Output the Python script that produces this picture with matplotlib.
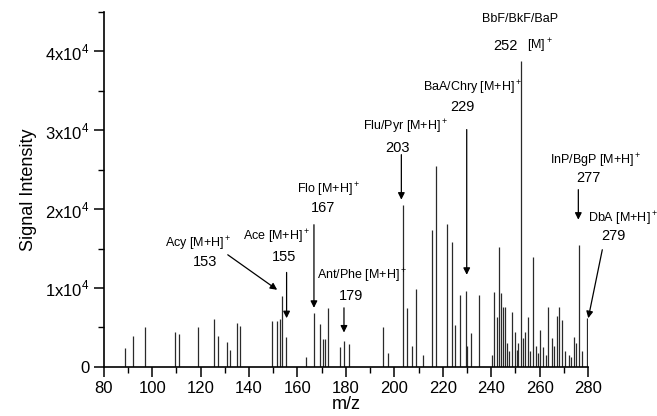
import matplotlib
matplotlib.use('Agg')
from matplotlib import pyplot as plt
from matplotlib.ticker import MultipleLocator, FuncFormatter

plt.rcParams['font.family'] = ['Liberation Sans', 'DejaVu Sans']
plt.rcParams['mathtext.fontset'] = 'custom'
plt.rcParams['mathtext.rm'] = 'Liberation Sans'

# peak positions (m/z) and signal intensities
mz = [88.9, 92.0, 97.2, 109.2, 111.0, 118.7, 125.4, 127.2, 130.8, 132.3,
      135.2, 136.2, 149.4, 151.5, 152.7, 153.6, 155.2, 163.7, 166.8, 169.3,
      170.5, 171.5, 172.6, 177.5, 179.4, 181.2, 195.3, 197.4, 203.4, 205.4,
      207.3, 209.1, 211.9, 215.4, 217.1, 221.8, 223.8, 225.0, 227.3, 229.6,
      230.1, 231.8, 235.0, 240.3, 241.2, 242.6, 243.4, 243.9, 244.8, 245.6,
      246.7, 247.5, 248.7, 249.8, 250.5, 251.2, 252.3, 253.0, 254.0, 255.3,
      256.0, 257.1, 258.4, 259.2, 260.2, 261.5, 262.5, 263.6, 265.2, 266.0,
      267.3, 268.1, 269.1, 270.5, 272.3, 273.0, 274.1, 274.9, 276.4, 277.5,
      279.5]
intensity = [2450, 3940, 5120, 4450, 4150, 5000, 6120, 3980, 3130, 2160,
             5590, 5170, 5800, 5760, 6100, 8950, 3800, 1230, 6820, 5460,
             3560, 3560, 7450, 2500, 3340, 2920, 5120, 1740, 20490, 7500,
             2620, 9870, 1520, 17400, 25500, 18140, 15790, 5330, 9140, 9650,
             2670, 4280, 9060, 1500, 9500, 6390, 15150, 9360, 7600, 7660,
             3080, 2000, 7020, 4480, 2200, 3000, 38770, 3660, 4480, 6390,
             2000, 14000, 2600, 1800, 4700, 2500, 1500, 7660, 3660, 2600,
             6480, 7660, 5970, 2000, 1520, 1200, 3850, 3000, 15500, 2000,
             6180]

# labelled compounds: (name, name x, name y, number, number x, number y)
labels = [
    ("Acy [M+H]$^+$", 105.2, 15620, "153", 121.7, 13340),
    ("Ace [M+H]$^+$", 137.4, 16510, "155", 154.4, 13970),
    ("Flo [M+H]$^+$", 159.8, 22480, "167", 170.7, 20190),
    ("Ant/Phe [M+H]$^+$", 168.0, 11560, "179", 182.1, 9020),
    ("Flu/Pyr [M+H]$^+$", 187.0, 30420, "203", 201.3, 27810),
    ("BaA/Chry [M+H]$^+$", 211.8, 35430, "229", 228.3, 33020),
    ("InP/BgP [M+H]$^+$", 264.3, 26160, "277", 280.0, 24000),
    ("DbA [M+H]$^+$", 280.0, 18800, "279", 290.7, 16640),
]
# arrows: (start x, start y, tip x, tip y)
arrows = [
    (131.2, 14220, 151.6, 9780),
    (155.5, 11980, 155.5, 6180),
    (166.8, 18030, 166.8, 7490),
    (179.2, 7490, 179.2, 4360),
    (202.9, 26920, 202.9, 21210),
    (229.9, 30100, 229.9, 11680),
    (276.0, 22480, 276.0, 18670),
    (285.9, 14860, 280.1, 6180),
]

fig = plt.figure(figsize=(6.57, 4.16), dpi=100)
ax = fig.add_axes([0.158, 0.118, 0.737, 0.853])

ax.vlines(mz, 0, intensity, color='#2a2a2a', lw=0.9)

ax.set_xlim(80, 280)
ax.set_ylim(0, 45000)
ax.xaxis.set_major_locator(MultipleLocator(20))
ax.xaxis.set_minor_locator(MultipleLocator(10))
ax.yaxis.set_major_locator(MultipleLocator(10000))
ax.yaxis.set_minor_locator(MultipleLocator(5000))


def yfmt(v, pos):
    if v == 0:
        return "0"
    return "%dx10$^4$" % round(v / 10000)


ax.yaxis.set_major_formatter(FuncFormatter(yfmt))
ax.spines['top'].set_visible(False)
ax.spines['right'].set_visible(False)
for s in ['left', 'bottom']:
    ax.spines[s].set_linewidth(1.2)
ax.tick_params(which='major', direction='out', length=7, width=1.1, labelsize=12)
ax.tick_params(which='minor', direction='out', length=4, width=1.0)
ax.set_xlabel('m/z', fontsize=13, labelpad=0)
ax.set_ylabel('Signal Intensity', fontsize=13, labelpad=6)

for name, nx, ny, num, ux, uy in labels:
    ax.text(nx, ny, name, fontsize=9, ha='left', va='center', clip_on=False)
    ax.text(ux, uy, num, fontsize=10.5, ha='center', va='center', clip_on=False)

# BbF/BkF/BaP has no arrow, the peak itself is labelled
ax.text(251.9, 44070, "BbF/BkF/BaP", fontsize=9, ha='center', va='center', clip_on=False)
ax.text(245.7, 40640, "252", fontsize=10.5, ha='center', va='center', clip_on=False)
ax.text(254.8, 40640, "[M]$^+$", fontsize=9, ha='left', va='center', clip_on=False)

for x0, y0, x1, y1 in arrows:
    ax.annotate('', xy=(x1, y1), xytext=(x0, y0), annotation_clip=False,
                arrowprops=dict(arrowstyle='-|>', color='black', lw=0.9,
                                mutation_scale=10, shrinkA=0, shrinkB=0))

fig.savefig('out.png', dpi=100)
